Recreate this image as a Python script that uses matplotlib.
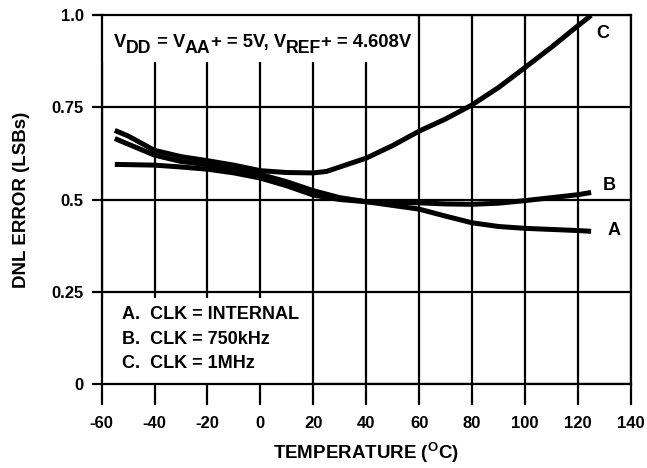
import matplotlib
matplotlib.use("Agg")
import matplotlib.pyplot as plt
from matplotlib.patches import Rectangle
from matplotlib.transforms import offset_copy

plt.rcParams['font.family'] = ['Liberation Sans', 'DejaVu Sans']
plt.rcParams['font.weight'] = 'bold'
plt.rcParams['mathtext.fontset'] = 'custom'
plt.rcParams['mathtext.rm'] = 'Liberation Sans:bold'
plt.rcParams['mathtext.it'] = 'Liberation Sans:bold'
plt.rcParams['mathtext.bf'] = 'Liberation Sans:bold'

# Data
temp_a = [-55, -50, -40, -30, -20, -10, 0, 10, 20, 30, 40, 50, 60, 70, 80, 90, 100, 110, 120, 125]
dnl_a = [0.665, 0.650, 0.620, 0.603, 0.594, 0.583, 0.568, 0.548, 0.524, 0.505, 0.494,
         0.484, 0.474, 0.455, 0.437, 0.427, 0.422, 0.419, 0.416, 0.414]
temp_b = [-55, -40, -30, -20, -10, 0, 10, 20, 30, 40, 50, 60, 70, 80, 90, 100, 110, 120, 125]
dnl_b = [0.595, 0.593, 0.588, 0.582, 0.572, 0.558, 0.537, 0.512, 0.500, 0.494,
         0.492, 0.491, 0.488, 0.487, 0.490, 0.497, 0.505, 0.513, 0.519]
temp_c = [-55, -50, -40, -30, -20, -10, 0, 10, 20, 25, 30, 40, 50, 60, 70, 80, 90, 100, 110, 120, 125]
dnl_c = [0.687, 0.672, 0.633, 0.616, 0.605, 0.593, 0.578, 0.573, 0.572, 0.576, 0.588,
         0.612, 0.646, 0.685, 0.718, 0.756, 0.803, 0.857, 0.912, 0.970, 0.998]

x_ticks = [-60, -40, -20, 0, 20, 40, 60, 80, 100, 120, 140]
y_ticks = [0, 0.25, 0.5, 0.75, 1.0]
y_tick_labels = ['0', '0.25', '0.5', '0.75', '1.0']
legend_lines = ['A.  CLK = INTERNAL', 'B.  CLK = 750kHz', 'C.  CLK = 1MHz']
curve_labels = ['A', 'B', 'C']
# (text, is_subscript)
condition_parts = [('V', False), ('DD', True), (' = V', False), ('AA', True),
                   ('+ = 5V, V', False), ('REF', True), ('+ = 4.608V', False)]

fig = plt.figure(figsize=(6.47, 4.68), dpi=100)
ax = fig.add_axes([0.157, 0.1788, 0.818, 0.7898])
ax.set_xlim(-60, 140)
ax.set_ylim(0, 1.0)

for s in ax.spines.values():
    s.set_linewidth(1.6)
ax.set_xticks(x_ticks)
ax.set_xticklabels([str(t) for t in x_ticks])
ax.set_yticks(y_ticks)
ax.set_yticklabels(y_tick_labels)
ax.tick_params(axis='x', direction='out', length=15, width=1.6, labelsize=12, pad=8)
ax.tick_params(axis='y', direction='out', length=7, width=1.6, labelsize=12, pad=6)
for lab in ax.get_xticklabels() + ax.get_yticklabels():
    lab.set_fontweight('bold')
ax.grid(True, color='black', linewidth=1.6)
ax.set_axisbelow(True)

# white boxes behind annotations (cover grid lines)
ax.add_patch(Rectangle((0, 0.872), 0.595, 0.128, transform=ax.transAxes,
                       facecolor='white', edgecolor='none', zorder=1.5))
ax.add_patch(Rectangle((0.003, 0.003), 0.392, 0.23, transform=ax.transAxes,
                       facecolor='white', edgecolor='none', zorder=1.5))

for t, d in [(temp_a, dnl_a), (temp_b, dnl_b), (temp_c, dnl_c)]:
    ax.plot(t, d, color='black', linewidth=3.6, solid_capstyle='butt', zorder=3)

# condition text with large subscripts
renderer = fig.canvas.get_renderer()
x_off = 0.0
for txt, sub in condition_parts:
    tr = offset_copy(ax.transData, fig=fig, x=x_off, y=(-4.2 if sub else 0.0), units='points')
    t = ax.text(-55.4, 0.912, txt, transform=tr, fontsize=(12.8 if sub else 13.3),
                fontweight='bold', va='baseline', ha='left', zorder=4)
    bb = t.get_window_extent(renderer)
    x_off += bb.width * 72.0 / fig.dpi

for i, line in enumerate(legend_lines):
    ax.text(-52.3, 0.188 - i * 0.066, line, fontsize=13, fontweight='bold',
            va='center', ha='left', zorder=4)

label_pos = [(131.2, 0.417), (129.3, 0.539), (127.1, 0.95)]
for lab, (lx, ly) in zip(curve_labels, label_pos):
    ax.text(lx, ly, lab, fontsize=13, fontweight='bold', va='center', ha='left', zorder=4)

ax.set_xlabel(r'TEMPERATURE ($^{\rm O}$C)', fontsize=13.5, fontweight='bold', labelpad=7)
ax.set_ylabel('DNL ERROR (LSBs)', fontsize=13.5, fontweight='bold', labelpad=15)

fig.savefig('out.png', dpi=100)
